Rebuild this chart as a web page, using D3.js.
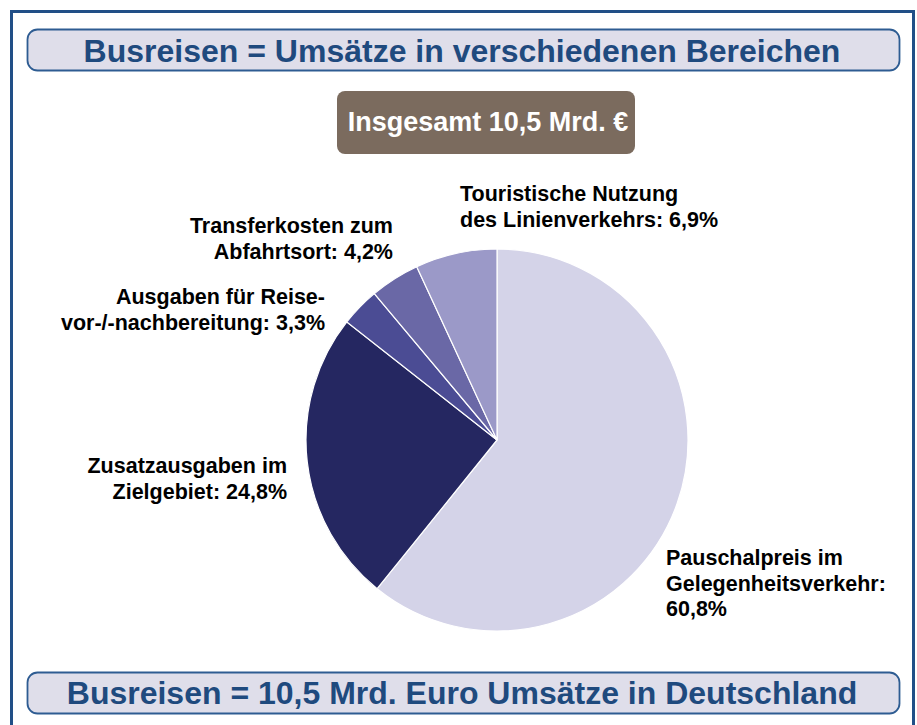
<!DOCTYPE html>
<html>
<head>
<meta charset="utf-8">
<script src="https://cdn.jsdelivr.net/npm/d3@7"></script>
<style>
  body { margin: 0; background: #fff; }
  svg text { font-family: "Liberation Sans", Arial, sans-serif; font-weight: bold; }
</style>
</head>
<body>
<div id="chart"></div>
<script>
// data
var categories = ["Pauschalpreis im Gelegenheitsverkehr", "Zusatzausgaben im Zielgebiet",
                  "Ausgaben für Reise-vor-/-nachbereitung", "Transferkosten zum Abfahrtsort",
                  "Touristische Nutzung des Linienverkehrs"];
var shares = [60.8, 24.8, 3.3, 4.2, 6.9];
var labelLines = [
  ["Pauschalpreis im", "Gelegenheitsverkehr:", "60,8%"],
  ["Zusatzausgaben im", "Zielgebiet: 24,8%"],
  ["Ausgaben für Reise-", "vor-/-nachbereitung: 3,3%"],
  ["Transferkosten zum", "Abfahrtsort: 4,2%"],
  ["Touristische Nutzung", "des Linienverkehrs: 6,9%"]
];
var sliceColors = ["#d4d3e8", "#252761", "#4b4c94", "#6a68a6", "#9b99c8"];
var title = "Busreisen = Umsätze in verschiedenen Bereichen";
var totalLabel = "Insgesamt 10,5 Mrd. €";
var footer = "Busreisen = 10,5 Mrd. Euro Umsätze in Deutschland";

function draw() {
  var w = 917, h = 725;
  var svg = d3.select("#chart").append("svg")
              .attr("width", w)
              .attr("height", h);

  // outer frame
  svg.append("rect")
     .attr("x", 11.5).attr("y", 11.5)
     .attr("width", 902).attr("height", 730)
     .attr("fill", "none")
     .attr("stroke", "#214f87")
     .attr("stroke-width", 3);

  // title banners
  function banner(y, txt, baseline) {
    svg.append("rect")
       .attr("x", 27.5).attr("y", y)
       .attr("width", 872).attr("height", 41)
       .attr("rx", 10)
       .attr("fill", "#dfdeea")
       .attr("stroke", "#2e5c92")
       .attr("stroke-width", 1.8);
    svg.append("text")
       .attr("x", 462).attr("y", baseline)
       .attr("text-anchor", "middle")
       .attr("font-size", 32)
       .attr("fill", "#1f4a7e")
       .text(txt);
  }
  banner(29.5, title, 62);
  banner(672.5, footer, 704);

  // total box
  svg.append("rect")
     .attr("x", 337).attr("y", 91)
     .attr("width", 298).attr("height", 63)
     .attr("rx", 8)
     .attr("fill", "#7b6b5e");
  svg.append("text")
     .attr("x", 488).attr("y", 131)
     .attr("text-anchor", "middle")
     .attr("font-size", 27)
     .attr("fill", "#fff")
     .text(totalLabel);

  // pie
  var cx = 497, cy = 440, r = 191;
  var pie = d3.pie().sort(null).value(function(d) { return d; });
  var arc = d3.arc().innerRadius(0).outerRadius(r);
  var g = svg.append("g").attr("transform", "translate(" + cx + "," + cy + ")");
  g.selectAll("path")
   .data(pie(shares))
   .enter()
   .append("path")
   .attr("d", arc)
   .attr("fill", function(d, i) { return sliceColors[i]; })
   .attr("stroke", "#fff")
   .attr("stroke-width", 1.2)
   .append("title")
   .text(function(d, i) { return categories[i]; });

  // label placement (x, first baseline, anchor)
  var labelPos = [
    [666, 565, "start"],
    [287, 473, "end"],
    [325, 304, "end"],
    [393, 233, "end"],
    [460, 201, "start"]
  ];
  labelLines.forEach(function(lines, i) {
    var p = labelPos[i];
    var t = svg.append("text")
               .attr("font-size", 21.5)
               .attr("fill", "#000")
               .attr("text-anchor", p[2]);
    lines.forEach(function(line, j) {
      t.append("tspan")
       .attr("x", p[0])
       .attr("y", p[1] + j * 25.5)
       .text(line);
    });
  });
}

window.onload = function() {
  draw();
};
</script>
</body>
</html>
